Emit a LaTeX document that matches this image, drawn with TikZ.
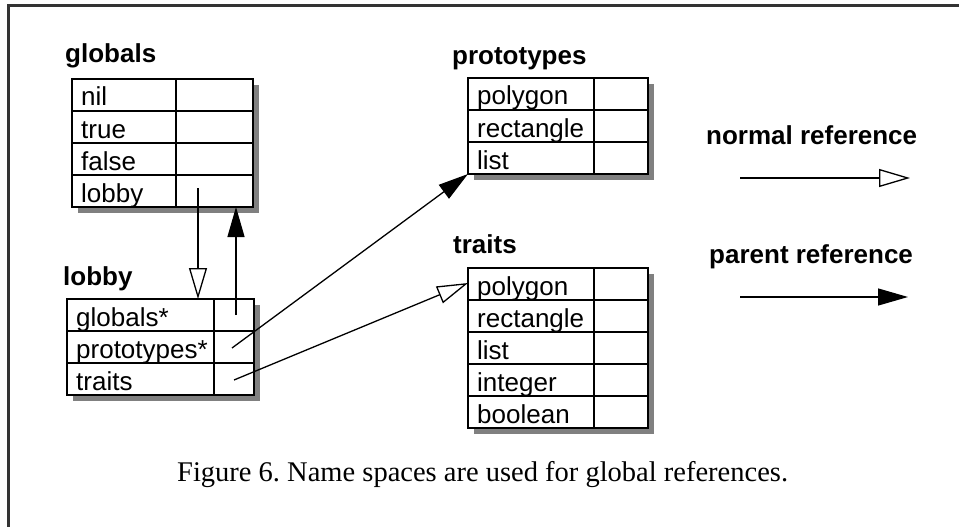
\documentclass[tikz,border=0pt]{standalone}
\usepackage{fontspec}
\setmainfont{Liberation Serif}
\setsansfont{Liberation Sans}
\usetikzlibrary{arrows.meta}
\tikzset{
  cell/.style={font=\sffamily\fontsize{26}{30}\selectfont, anchor=base west, inner sep=0pt},
  title/.style={font=\sffamily\bfseries\fontsize{26}{30}\selectfont, anchor=base west, inner sep=0pt},
  tbl/.style={line width=1.5pt, draw=black},
  shadow/.style={fill=black!50, draw=none},
  normalref/.style={line width=1.3pt, -{Triangle[open, length=31pt, width=18pt, line width=1.3pt]}},
  parentref/.style={line width=1.3pt, -{Triangle[length=30pt, width=17pt]}},
  frameline/.style={line width=3pt, draw=black!80}
}
% table macro: #1 name prefix, #2 x0, #3 y0, #4 xdiv, #5 x1, #6 list of entries
\newcommand{\slottable}[6]{%
  \def\tnrows{0}%
  \foreach \t in {#6} {\global\edef\tnrows{\the\numexpr\tnrows+1\relax}}%
  \pgfmathsetmacro{\tybot}{#3+32*\tnrows}%
  \fill[shadow] (#2+6,#3+6) rectangle (#5+6,\tybot+6);
  \fill[white] (#2,#3) rectangle (#5,\tybot);
  \foreach \t [count=\i] in {#6} {
    \pgfmathsetmacro{\ra}{#3+32*(\i-1)}
    \pgfmathsetmacro{\rb}{#3+32*\i}
    \draw[tbl] (#2,\ra) rectangle (#4,\rb);
    \draw[tbl] (#4,\ra) rectangle (#5,\rb);
    \node[cell] (#1-\i) at (#2+9,\rb-5) {\t};
  }
}
\begin{document}
\begin{tikzpicture}[x=1pt,y=-1pt]
\useasboundingbox (0,0) rectangle (959,527);
% frame
\draw[frameline] (959,6) -- (8,6) -- (8,527);

% titles
\node[title] (tglobals) at (65,63) {globals};
\node[title] (tlobby) at (63,285) {lobby};
\node[title] (tproto) at (452,65) {prototypes};
\node[title] (ttraits) at (453,253) {traits};

% tables
\slottable{glob}{72}{79}{176}{253}{nil,true,false,lobby}
\slottable{lob}{67}{299}{214}{254}{globals*,prototypes*,traits}
\slottable{proto}{468}{78}{594}{648}{polygon,rectangle,list}
\slottable{trait}{468}{268}{594}{648}{polygon,rectangle,list,integer,boolean}

% connector end points
\coordinate (globLobbySlot) at (198,188);
\coordinate (lobbyTop) at (198,299);
\coordinate (lobGlobSlot) at (236,315);
\coordinate (globBottom) at (236,207);
\coordinate (lobProtoSlot) at (232,348);
\coordinate (protoCorner) at (468,174);
\coordinate (lobTraitSlot) at (234,380);
\coordinate (traitEntry) at (468,283);

\draw[normalref] (globLobbySlot) -- (lobbyTop);
\draw[parentref] (lobGlobSlot) -- (globBottom);
\draw[parentref] (lobProtoSlot) -- (protoCorner);
\draw[normalref] (lobTraitSlot) -- (traitEntry);

% legend
\node[title] (lnormal) at (706,144) {normal reference};
\node[title] (lparent) at (709,263) {parent reference};
\coordinate (ln0) at (740,178);
\coordinate (ln1) at (910,178);
\coordinate (lp0) at (740,297);
\coordinate (lp1) at (908,297);
\draw[normalref] (ln0) -- (ln1);
\draw[parentref] (lp0) -- (lp1);

% caption
\node[font=\fontsize{28.5}{34}\selectfont, anchor=base west, inner sep=0pt] (caption) at (177,481)
  {\frenchspacing Figure 6. Name spaces are used for global references.};
\end{tikzpicture}
\end{document}
